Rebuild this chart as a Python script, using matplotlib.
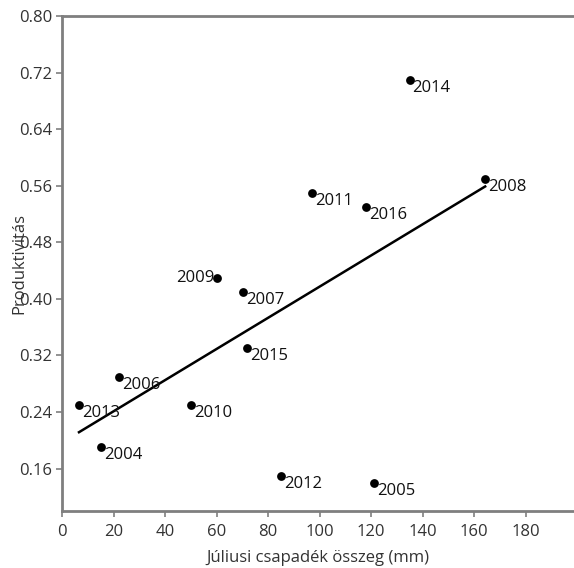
import matplotlib
matplotlib.use("Agg")
import matplotlib.pyplot as plt
import numpy as np

years = ["2013", "2004", "2006", "2010", "2009", "2007", "2015", "2012",
         "2011", "2016", "2005", "2014", "2008"]
rain = [6.6, 15.1, 22.1, 50.1, 60.2, 70.3, 71.8, 85.0, 97.1, 118.0, 121.2, 135.0, 164.3]
prod = [0.25, 0.19, 0.29, 0.25, 0.43, 0.41, 0.33, 0.15, 0.55, 0.53, 0.14, 0.71, 0.57]
xticks = [0, 20, 40, 60, 80, 100, 120, 140, 160, 180]
yticks = [0.16, 0.24, 0.32, 0.40, 0.48, 0.56, 0.64, 0.72, 0.80]

plt.rcParams['font.family'] = ['Open Sans', 'DejaVu Sans']

fig = plt.figure(figsize=(5.74, 5.68), dpi=100)
ax = fig.add_axes([62/574, 1-511/568, 1-62/574, (511-16)/568])

ax.scatter(rain, prod, s=40, color='black', zorder=3, linewidths=0)

x = np.array(rain)
y = np.array(prod)
m, b = np.polyfit(x, y, 1)
xl = np.array([x.min(), x.max()])
ax.plot(xl, m*xl + b, color='black', lw=1.8, zorder=2)

for yr, xi, yi in zip(years, rain, prod):
    if yr == "2009":
        ax.annotate(yr, (xi, yi), xytext=(-2, 0), textcoords='offset points',
                    ha='right', va='center', fontsize=12, color='#111111')
    else:
        ax.annotate(yr, (xi, yi), xytext=(2, 0), textcoords='offset points',
                    ha='left', va='top', fontsize=12, color='#111111')

ax.set_xlim(0, 198.8)
ax.set_ylim(0.10, 0.80)
ax.set_xticks(xticks)
ax.set_yticks(yticks)
ax.set_yticklabels([f"{v:.2f}" for v in yticks])

gray = '#7f7f7f'
for s in ['left', 'bottom', 'top']:
    ax.spines[s].set_color(gray)
    ax.spines[s].set_linewidth(2)
ax.spines['right'].set_visible(False)
ax.tick_params(colors=gray, labelcolor='#333333', labelsize=12, length=4, width=1.2)
ax.tick_params(axis='x', pad=5)
ax.tick_params(axis='y', pad=3)

ax.set_xlabel("Júliusi csapadék összeg (mm)", fontsize=12, color='#333333')
ax.set_ylabel("Produktivitás", fontsize=12, color='#333333')
ax.xaxis.set_label_coords(0.5, -0.078)
ax.yaxis.set_label_coords(-0.068, 0.5)

fig.savefig("out.png", dpi=100)
